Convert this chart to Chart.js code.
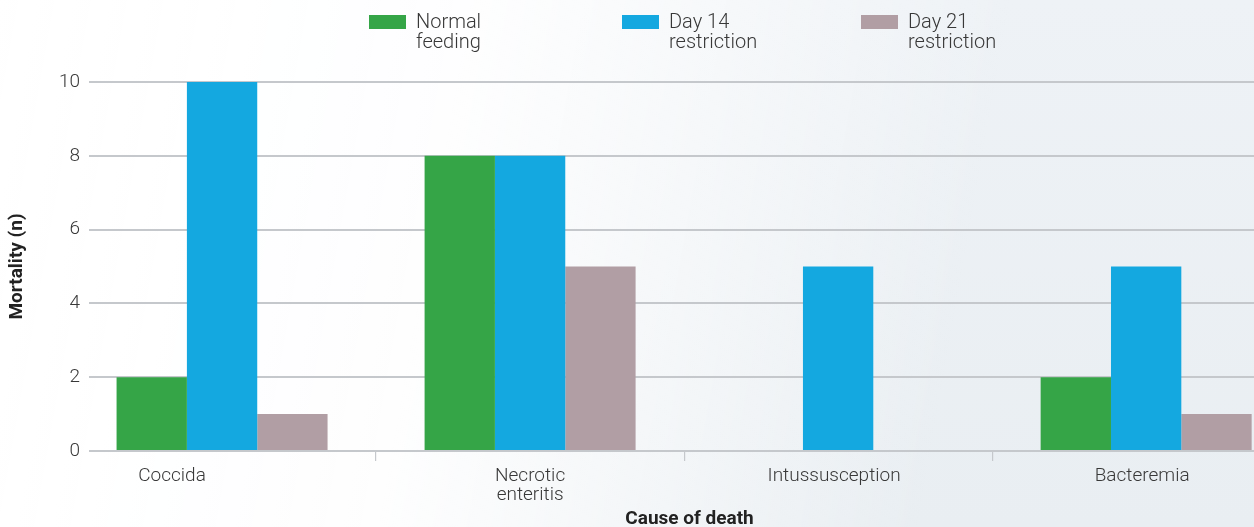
<!DOCTYPE html>
<html>
<head>
<meta charset="utf-8">
<script src="https://cdn.jsdelivr.net/npm/chart.js@4.4.1/dist/chart.umd.min.js"></script>
<style>
  html, body { margin: 0; padding: 0; width: 1254px; height: 527px; overflow: hidden; }
  body {
    background:
      linear-gradient(100deg, rgba(255,255,255,1) 0%, rgba(255,255,255,0.95) 35%, rgba(255,255,255,0) 75%),
      linear-gradient(180deg, #eef2f6 0%, #e9eef2 100%);
  }
  #wrap { position: absolute; left: 0; top: 0; width: 1290px; height: 527px; }
</style>
</head>
<body>
<div id="wrap"><canvas id="c" width="1290" height="527"></canvas></div>
<script>
// Causes of death and mortality counts per feeding programme
const categories = [['Coccida'], ['Necrotic', 'enteritis'], ['Intussusception'], ['Bacteremia']];
const seriesNames = [['Normal', 'feeding'], ['Day 14', 'restriction'], ['Day 21', 'restriction']];
const normalFeeding = [2, 8, 0, 2];
const day14Restriction = [10, 8, 5, 5];
const day21Restriction = [1, 5, 0, 1];
const yTicks = [0, 2, 4, 6, 8, 10];

const colors = ['#35a547', '#14a8e0', '#b19ea4'];
const seriesValues = [normalFeeding, day14Restriction, day21Restriction];

const FONT = 'Roboto, "Liberation Sans", Arial, sans-serif';
const TEXT = '#383838';
const GRID = '#c5c8cc';

const datasets = seriesValues.map((vals, s) => ({
  label: seriesNames[s].join(' '),
  data: vals.map((v, i) => ({ x: i, y: v })),
  backgroundColor: colors[s],
  borderWidth: 0,
  barPercentage: 1.0,
  categoryPercentage: 0.685
}));

// small horizontal nudges for the category captions
const captionShift = [-50, 0, -4, -4];

const captionPlugin = {
  id: 'captions',
  afterDraw(chart) {
    const ctx = chart.ctx;
    const xs = chart.scales.x;
    ctx.save();
    ctx.fillStyle = TEXT;
    ctx.font = '300 19px ' + FONT;
    ctx.textAlign = 'center';
    ctx.textBaseline = 'top';
    categories.forEach((lines, i) => {
      const cx = xs.getPixelForValue(i) + captionShift[i];
      lines.forEach((t, k) => ctx.fillText(t, cx, 467 + k * 19));
    });
    ctx.restore();
  }
};

const legendX = [369, 622, 861];
const legendPlugin = {
  id: 'topLegend',
  afterDraw(chart) {
    const ctx = chart.ctx;
    ctx.save();
    ctx.font = '300 20px ' + FONT;
    ctx.textAlign = 'left';
    ctx.textBaseline = 'top';
    chart.data.datasets.forEach((ds, s) => {
      const x = legendX[s];
      ctx.fillStyle = ds.backgroundColor;
      ctx.fillRect(x, 15, 37, 14);
      ctx.fillStyle = TEXT;
      seriesNames[s].forEach((t, k) => ctx.fillText(t, x + 47, 13 + k * 20));
    });
    ctx.restore();
  }
};

new Chart(document.getElementById('c'), {
  type: 'bar',
  data: { datasets },
  options: {
    responsive: false,
    animation: false,
    events: [],
    layout: { padding: { top: 82, right: 0, bottom: 0, left: 0 } },
    plugins: { legend: { display: false }, tooltip: { enabled: false } },
    scales: {
      x: {
        type: 'linear',
        offset: false,
        min: -0.432,
        max: 3.467,
        afterBuildTicks(scale) { scale.ticks = categories.map((_, i) => ({ value: i })); },
        afterFit(scale) { scale.height = 76; },
        ticks: { callback: () => '', padding: 0 },
        grid: {
          offset: true,
          drawOnChartArea: false,
          drawTicks: true,
          tickLength: 10,
          color: GRID,
          lineWidth: 1.2
        },
        border: { display: false },
        title: {
          display: true,
          text: 'Cause of death',
          color: '#222222',
          font: { family: FONT, size: 19, weight: 'bold', lineHeight: 0.8 },
          padding: { top: 0, bottom: 0 }
        }
      },
      y: {
        min: 0,
        max: 10,
        afterBuildTicks(scale) { scale.ticks = yTicks.map(v => ({ value: v })); },
        afterFit(scale) { scale.width = 89; },
        ticks: {
          color: TEXT,
          padding: 9,
          font: { family: FONT, size: 19, weight: '300' }
        },
        grid: { color: GRID, lineWidth: 2, drawTicks: false },
        border: { display: false },
        title: {
          display: true,
          text: 'Mortality (n)',
          color: '#222222',
          font: { family: FONT, size: 19, weight: 'bold' },
          padding: { top: 6, bottom: 0 }
        }
      }
    }
  },
  plugins: [captionPlugin, legendPlugin]
});
</script>
</body>
</html>
